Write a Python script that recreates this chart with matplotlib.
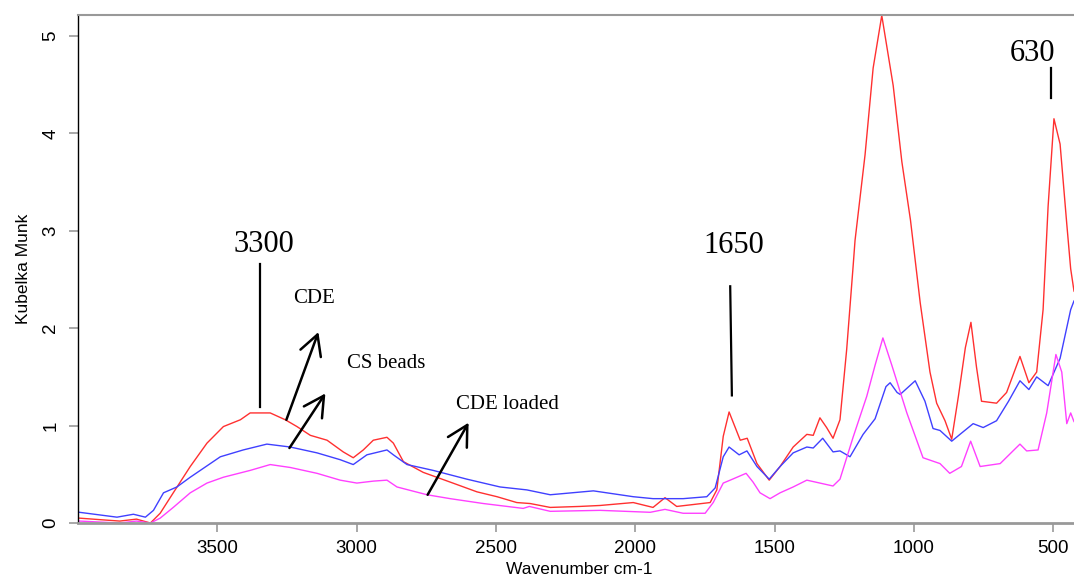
import matplotlib
matplotlib.use("Agg")
import matplotlib.pyplot as plt

plt.rcParams["font.family"] = ["Liberation Sans", "DejaVu Sans"]

# FTIR spectra (Kubelka-Munk units) vs wavenumber
cde_wn = [3995, 3900, 3850, 3790, 3740, 3705, 3658, 3597, 3537, 3478, 3417, 3382, 3310, 3256,
          3214, 3166, 3106, 3048, 3012, 2976, 2940, 2891, 2868, 2832, 2761, 2664, 2568, 2496,
          2425, 2377, 2305, 2200, 2126, 2007, 1936, 1893, 1851, 1731, 1707, 1684, 1663, 1623,
          1598, 1563, 1519, 1480, 1433, 1384, 1361, 1337, 1313, 1290, 1265, 1241, 1218, 1211,
          1175, 1146, 1115, 1074, 1043, 1012, 977, 942, 918, 888, 864, 840, 815, 795, 775, 757,
          703, 667, 619, 587, 559, 536, 518, 497, 475, 451, 437, 425, 400]
cde_km = [0.05, 0.03, 0.02, 0.04, 0.00, 0.10, 0.31, 0.58, 0.82, 0.99, 1.06, 1.13, 1.13, 1.06,
          0.99, 0.90, 0.85, 0.73, 0.67, 0.75, 0.85, 0.88, 0.82, 0.63, 0.52, 0.42, 0.32, 0.27,
          0.21, 0.20, 0.16, 0.17, 0.18, 0.21, 0.16, 0.26, 0.17, 0.21, 0.34, 0.89, 1.14, 0.85,
          0.87, 0.61, 0.44, 0.58, 0.78, 0.91, 0.90, 1.08, 0.98, 0.87, 1.06, 1.78, 2.63, 2.90,
          3.78, 4.67, 5.21, 4.49, 3.71, 3.11, 2.26, 1.55, 1.23, 1.05, 0.86, 1.30, 1.80, 2.06, 1.60, 1.25,
          1.23, 1.34, 1.71, 1.44, 1.55, 2.19, 3.25, 4.15, 3.89, 3.07, 2.61, 2.38, 2.30]

beads_wn = [3995, 3860, 3801, 3758, 3729, 3693, 3645, 3597, 3489, 3407, 3322, 3238, 3142, 3059,
            3012, 2963, 2891, 2868, 2819, 2725, 2604, 2485, 2389, 2305, 2150, 2007, 1936, 1828,
            1743, 1713, 1684, 1663, 1627, 1599, 1563, 1519, 1480, 1433, 1384, 1361, 1327, 1290,
            1265, 1229, 1182, 1139, 1100, 1085, 1060, 1049, 995, 960, 931, 906, 864, 830, 787,
            751, 703, 660, 619, 587, 559, 518, 475, 437, 425, 400]
beads_km = [0.11, 0.06, 0.09, 0.06, 0.13, 0.31, 0.37, 0.47, 0.68, 0.75, 0.81, 0.78, 0.72, 0.65,
            0.60, 0.70, 0.75, 0.70, 0.60, 0.54, 0.45, 0.37, 0.34, 0.29, 0.33, 0.27, 0.25, 0.25,
            0.27, 0.36, 0.68, 0.78, 0.70, 0.74, 0.58, 0.45, 0.58, 0.72, 0.78, 0.77, 0.87, 0.73,
            0.74, 0.68, 0.91, 1.07, 1.40, 1.44, 1.34, 1.32, 1.46, 1.25, 0.97, 0.95, 0.84, 0.92, 1.02,
            0.98, 1.05, 1.25, 1.46, 1.37, 1.50, 1.41, 1.69, 2.19, 2.28, 2.35]

loaded_wn = [3995, 3850, 3790, 3740, 3705, 3658, 3597, 3537, 3478, 3382, 3310, 3238, 3142, 3059,
             2999, 2940, 2891, 2855, 2747, 2664, 2545, 2402, 2380, 2305, 2126, 1946, 1893, 1828,
             1749, 1720, 1684, 1659, 1602, 1577, 1552, 1516, 1480, 1433, 1384, 1337, 1290, 1265,
             1218, 1169, 1139, 1111, 1079, 1025, 967, 906, 871, 829, 796, 762, 690, 644, 619, 595,
             554, 523, 490, 469, 451, 437, 425, 400]
loaded_km = [0.02, 0.00, 0.02, 0.00, 0.05, 0.16, 0.31, 0.41, 0.47, 0.54, 0.60, 0.57, 0.51, 0.44,
             0.41, 0.43, 0.44, 0.37, 0.29, 0.25, 0.20, 0.15, 0.17, 0.12, 0.13, 0.11, 0.14, 0.10,
             0.10, 0.21, 0.41, 0.44, 0.51, 0.42, 0.31, 0.25, 0.31, 0.37, 0.44, 0.41, 0.38, 0.45,
             0.88, 1.30, 1.62, 1.90, 1.62, 1.13, 0.67, 0.61, 0.51, 0.58, 0.84, 0.58, 0.61, 0.74, 0.81, 0.74,
             0.75, 1.13, 1.73, 1.55, 1.02, 1.13, 1.04, 1.00]

fig = plt.figure(figsize=(10.74, 5.79), dpi=100)
ax = fig.add_axes([0.0726, 0.0967, 0.9339, 0.8774])

ax.plot(cde_wn, cde_km, color="#ff3030", lw=1.0)
ax.plot(beads_wn, beads_km, color="#4040ff", lw=1.0)
ax.plot(loaded_wn, loaded_km, color="#ff40ff", lw=1.0)

ax.set_xlim(4000, 400)
ax.set_ylim(0, 5.215)
ax.set_xticks([3500, 3000, 2500, 2000, 1500, 1000, 500])
ax.set_yticks([0, 1, 2, 3, 4, 5])
ax.tick_params(axis="both", colors="#999999", labelcolor="black", length=6.5, width=1.2,
               labelsize=13.5, pad=6)
ax.tick_params(axis="y", pad=7)
for lab in ax.get_yticklabels():
    lab.set_rotation(90)
    lab.set_va("center")

ax.spines["right"].set_visible(False)
ax.spines["left"].set_color("black")
ax.spines["left"].set_linewidth(1.0)
ax.spines["top"].set_color("#999999")
ax.spines["top"].set_linewidth(1.5)
ax.spines["bottom"].set_color("#999999")
ax.spines["bottom"].set_linewidth(2.0)

ax.set_xlabel("Wavenumber cm-1", fontsize=12.5, labelpad=3)
ax.set_ylabel("Kubelka Munk", fontsize=12.5, labelpad=8)

serif = "Liberation Serif"

# peak markers
ax.text(3331, 2.785, "3300", family=serif, fontsize=22, ha="center", va="baseline")
ax.plot([3346, 3346], [2.66, 1.19], color="black", lw=1.6)
ax.text(1647, 2.77, "1650", family=serif, fontsize=22, ha="center", va="baseline")
ax.plot([1659, 1653], [2.43, 1.31], color="black", lw=1.6)
ax.text(574, 4.74, "630", family=serif, fontsize=22, ha="center", va="baseline")
ax.plot([508, 508], [4.67, 4.36], color="black", lw=1.6)

# series labels with arrows
arrow = dict(arrowstyle="->,head_length=1.2,head_width=0.65", color="black", lw=1.8,
             shrinkA=0, shrinkB=0, mutation_scale=12)
ax.text(3154, 2.255, "CDE", family=serif, fontsize=15, ha="center", va="baseline")
ax.annotate("", xy=(3137, 1.96), xytext=(3252, 1.06), arrowprops=arrow)
ax.text(2894, 1.59, "CS beads", family=serif, fontsize=15, ha="center", va="baseline")
ax.annotate("", xy=(3112, 1.33), xytext=(3241, 0.77), arrowprops=arrow)
ax.text(2459, 1.17, "CDE loaded", family=serif, fontsize=15, ha="center", va="baseline")
ax.annotate("", xy=(2598, 1.03), xytext=(2745, 0.29), arrowprops=arrow)

fig.savefig("out.png", dpi=100)
